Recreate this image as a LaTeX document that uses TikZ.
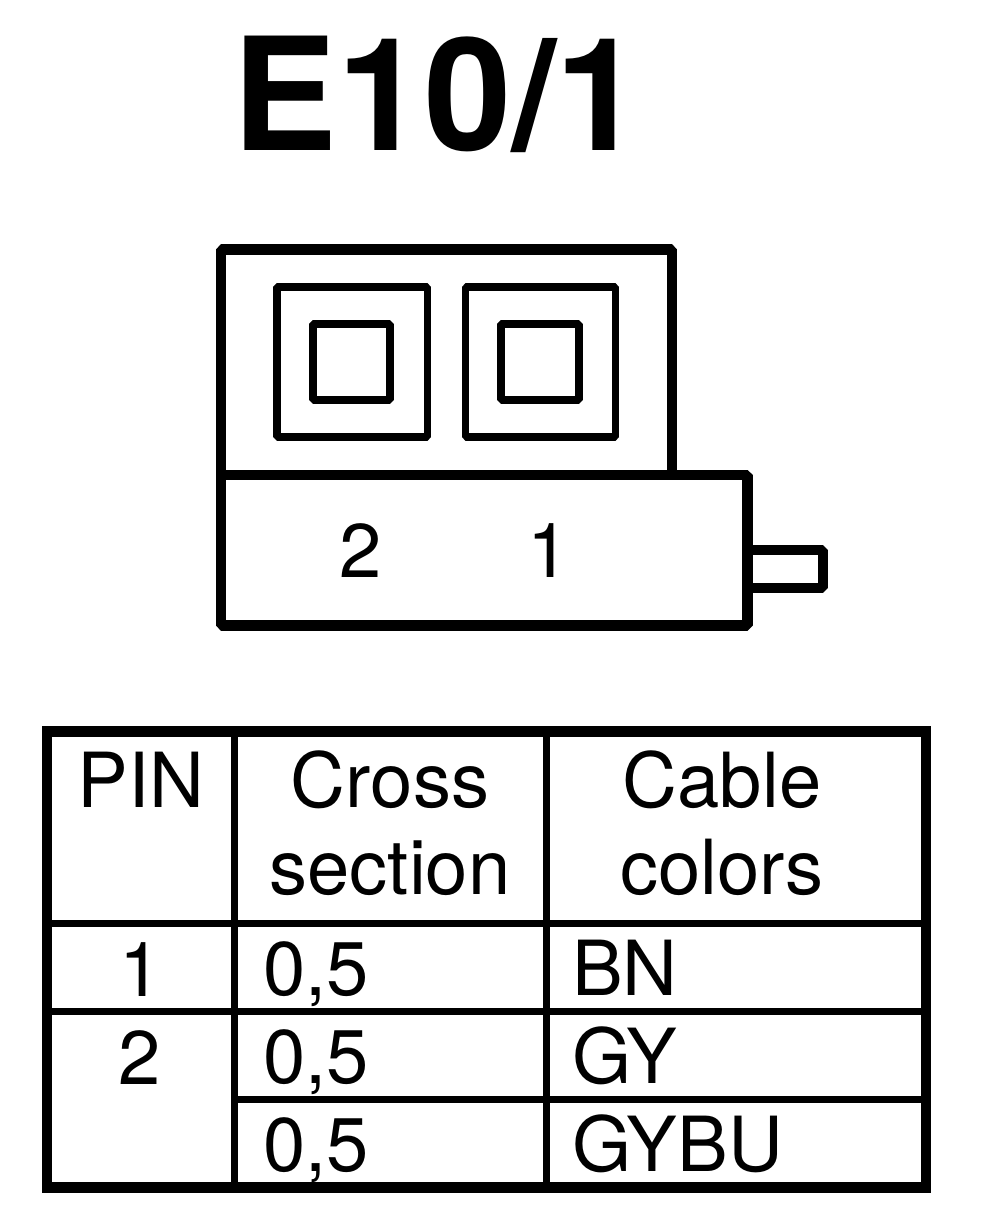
\documentclass[tikz,border=0pt]{standalone}
\usepackage{fontspec}
\setmainfont{TeX Gyre Heros}
\tikzset{
  wire/.style={line width=10.5pt,line join=bevel},
  thin wire/.style={line width=7.5pt,line join=bevel},
  rule/.style={line width=7pt},
  cell/.style={font=\fontsize{76}{76}\selectfont,inner sep=0pt,anchor=base}
}
\begin{document}
\begin{tikzpicture}
  [x=1pt,y=-1pt]
  \useasboundingbox (0,0) rectangle (992,1228);
  \node[inner sep=0pt,anchor=base,font=\fontsize{157}{157}\selectfont\bfseries] (title) at (438,150) {E10/1};
  % connector
  \draw[wire] (221,475) -- (221,249.5) -- (672,249.5) -- (672,475);
  \draw[wire] (221,475) rectangle (747.5,625.5);
  \draw[wire] (747.5,550) -- (823,550) -- (823,588) -- (747.5,588);
  \draw[thin wire] (277,287) rectangle (427.5,437);
  \draw[thin wire] (465.5,287) rectangle (615.5,437);
  \draw[thin wire] (313,324) rectangle (390,400);
  \draw[thin wire] (501,324) rectangle (579,400);
  \node[cell] (p2) at (361,577) {2};
  \node[cell] (p1) at (549,577) {1};
  % table
  \draw[line width=10.5pt] (47,731.5) rectangle (926,1187.5);
  \foreach \x in {234.5,546.5}
    \draw[rule] (\x,731.5) -- (\x,1187.5);
  \foreach \y in {923,1011.5}
    \draw[rule] (47,\y) -- (926,\y);
  \draw[rule] (234.5,1099.5) -- (926,1099.5);
  \node[cell] (h1) at (141,807) {PIN};
  \node[cell] (h2) at (390,807) {Cross};
  \node[cell] (h2b) at (390,894) {section};
  \node[cell] (h3) at (722,807) {Cable};
  \node[cell] (h3b) at (722,894) {colors};
  \node[cell] (r1) at (141,996) {1};
  \node[cell] (r2) at (140,1084) {2};
  \foreach \y/\name/\txt in {995/a/BN,1083/b/GY,1171/c/GYBU} {
    \node[cell] (s\name) at (316,\y) {0,5};
    \node[cell,anchor=base west] (c\name) at (572,\y) {\txt};
  }
\end{tikzpicture}
\end{document}
